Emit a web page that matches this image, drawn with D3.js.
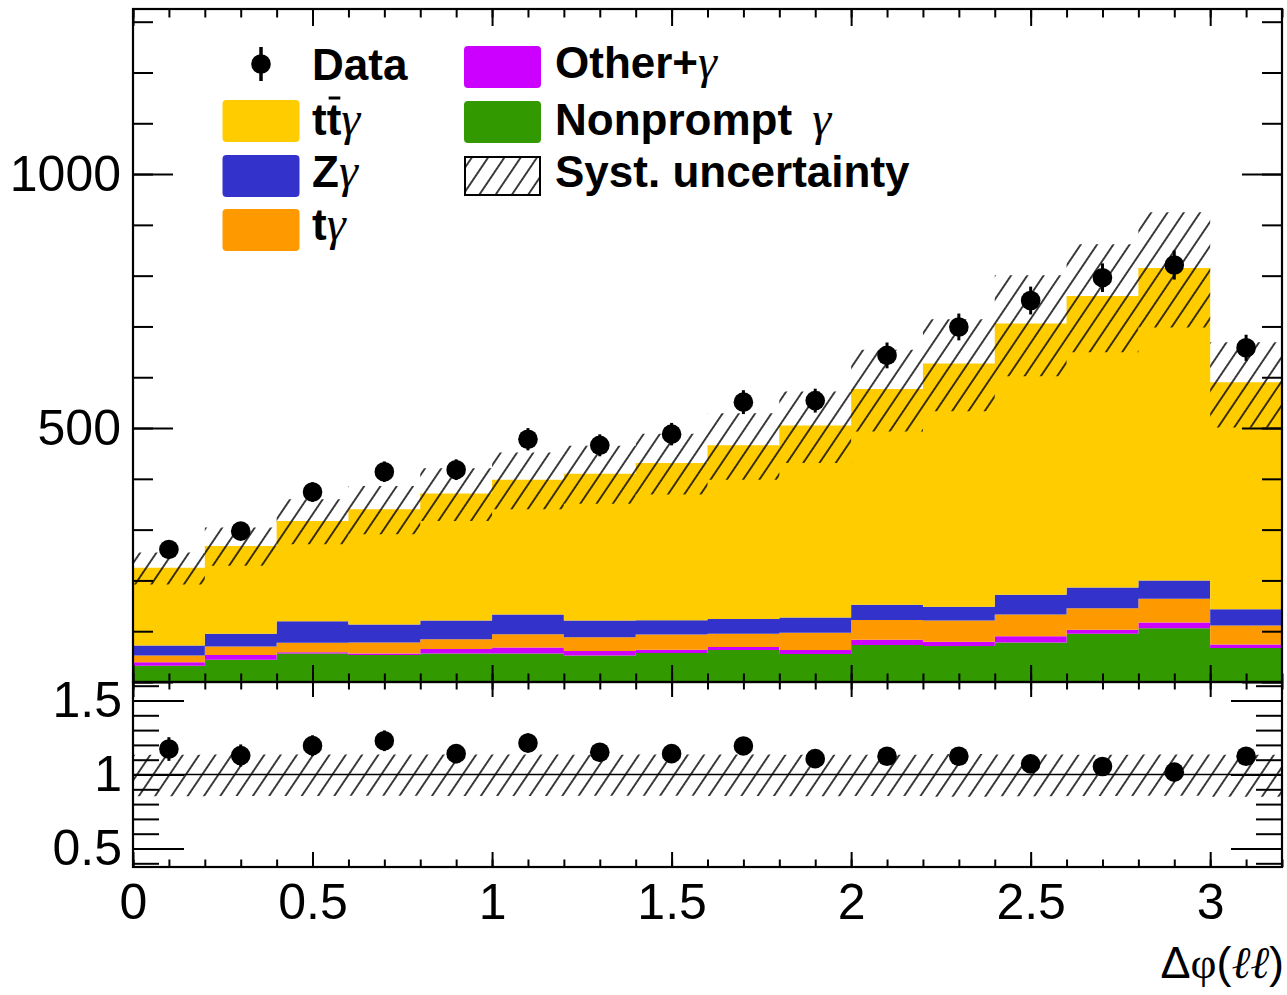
<!DOCTYPE html>
<html>
<head>
<meta charset="utf-8">
<script src="https://cdn.jsdelivr.net/npm/d3@7/dist/d3.min.js"></script>
<style>
  body { margin: 0; background: #fff; }
</style>
</head>
<body>
<div id="chart"></div>
<script>
// Bin edges of delta phi(ll)
const binEdges = [0, 0.2, 0.4, 0.6, 0.8, 1.0, 1.2, 1.4, 1.6, 1.8, 2.0, 2.2, 2.4, 2.6, 2.8, 3.0, 3.2];

// Stacked predictions per bin (bottom to top)
const nonprompt = [32, 44, 56, 53, 56, 56, 52, 57, 63, 55, 73, 71, 78, 95, 106, 67];
const otherG    = [7, 9, 2.5, 3, 9, 12, 9, 6.5, 6, 8, 10, 8, 12, 8, 11, 7];
const tG        = [13, 17, 19, 22, 19, 26, 27, 30, 26, 34, 39, 42, 43, 42, 47, 37];
const zG        = [20, 25, 42, 35, 37, 39, 33, 28, 29, 30, 30, 27, 39, 41, 36, 32];
const ttG       = [153, 173, 197.5, 227, 250, 265, 289, 309.5, 342, 378, 425, 479, 534, 574, 615, 447];

// Data and uncertainties
const dataCounts = [261, 297, 374, 414, 418, 478, 466, 488, 551, 554, 643, 699, 751, 796, 821, 658];
const dataErr    = [16.2, 17.2, 19.3, 20.3, 20.4, 21.9, 21.6, 22.1, 23.5, 23.5, 25.4, 26.4, 27.4, 28.2, 28.7, 25.7];
const systUp     = [30, 36, 43, 46, 50, 54, 55, 58, 63, 67, 77, 87, 95, 102, 110, 79];
const systDown   = [33, 39, 46, 49, 54, 58, 59, 62, 68, 74, 84, 94, 104, 111, 117, 89];

// Data / prediction
const ratioVals = [1.172, 1.128, 1.195, 1.228, 1.141, 1.213, 1.150, 1.141, 1.193, 1.107, 1.123, 1.123, 1.072, 1.054, 1.016, 1.123];
const ratioErr  = [0.08, 0.075, 0.07, 0.07, 0.065, 0.065, 0.062, 0.06, 0.06, 0.056, 0.053, 0.05, 0.047, 0.045, 0.042, 0.05];

// Tick labels
const xTicks = [0, 0.5, 1, 1.5, 2, 2.5, 3];
const xTickLabels = ['0', '0.5', '1', '1.5', '2', '2.5', '3'];
const yTicks = [0, 500, 1000];
const yTickLabels = ['', '500', '1000'];
const rTicks = [0.5, 1, 1.5];
const rTickLabels = ['0.5', '1', '1.5'];

const keys = ['nonprompt', 'other', 'tg', 'zg', 'ttg'];
const colors = { nonprompt: '#339900', other: '#cc00ff', tg: '#ff9900', zg: '#3333cc', ttg: '#ffcc00' };

const SANS = '"Liberation Sans", Arial, Helvetica, sans-serif';
const SERIF = '"Liberation Serif", "DejaVu Serif", serif';

// Frame geometry
const W = 1287, H = 995;
const left = 133, right = 1282;
const topY = 9, midY = 682, botY = 867;

const svg = d3.select('#chart').append('svg')
  .attr('width', W).attr('height', H)
  .style('font-family', SANS);

svg.append('rect').attr('width', W).attr('height', H).attr('fill', '#fff');

const x = d3.scaleLinear().domain([0, 3.2]).range([left, right]);
const y = d3.scaleLinear().domain([0, 1325]).range([midY, topY]);
const yr = d3.scaleLinear().domain([0.375, 1.625]).range([botY, midY]);

// Hatch pattern (ROOT style 3004-like)
const defs = svg.append('defs');
defs.append('pattern')
  .attr('id', 'hatch')
  .attr('patternUnits', 'userSpaceOnUse')
  .attr('width', 13.5).attr('height', 20)
  .attr('patternTransform', 'rotate(34)')
  .append('line')
  .attr('x1', 6.75).attr('x2', 6.75).attr('y1', -1).attr('y2', 21)
  .attr('stroke', '#000').attr('stroke-width', 1.5);

defs.append('clipPath').attr('id', 'clipTop')
  .append('rect').attr('x', left).attr('y', topY).attr('width', right - left).attr('height', midY - topY);
defs.append('clipPath').attr('id', 'clipBot')
  .append('rect').attr('x', left).attr('y', midY).attr('width', right - left).attr('height', botY - midY);

// Rows for the stack
const rows = binEdges.slice(0, -1).map((lo, i) => ({
  lo, hi: binEdges[i + 1],
  nonprompt: nonprompt[i], other: otherG[i], tg: tG[i], zg: zG[i], ttg: ttG[i]
}));
const series = d3.stack().keys(keys)(rows);

// Step area helper: two points per bin
function stepPoints(lo0, hi0) {
  const pts = [];
  rows.forEach((r, i) => {
    pts.push({ x: r.lo, y0: lo0(i), y1: hi0(i) });
    pts.push({ x: r.hi, y0: lo0(i), y1: hi0(i) });
  });
  return pts;
}

const upper = svg.append('g').attr('clip-path', 'url(#clipTop)');

series.forEach(s => {
  const area = d3.area().x(d => x(d.x)).y0(d => y(d.y0)).y1(d => y(d.y1));
  upper.append('path')
    .datum(stepPoints(i => s[i][0], i => s[i][1]))
    .attr('d', area)
    .attr('fill', colors[s.key]);
});

// Total prediction and systematic band
const total = rows.map((r, i) => series[series.length - 1][i][1]);
const bandArea = d3.area().x(d => x(d.x)).y0(d => y(d.y0)).y1(d => y(d.y1));
upper.append('path')
  .datum(stepPoints(i => total[i] - systDown[i], i => total[i] + systUp[i]))
  .attr('d', bandArea)
  .attr('fill', 'url(#hatch)');

// Data points
const centers = rows.map(r => (r.lo + r.hi) / 2);
upper.selectAll('.err')
  .data(dataCounts)
  .enter().append('line')
  .attr('x1', (d, i) => x(centers[i])).attr('x2', (d, i) => x(centers[i]))
  .attr('y1', (d, i) => y(d - dataErr[i])).attr('y2', (d, i) => y(d + dataErr[i]))
  .attr('stroke', '#000').attr('stroke-width', 3);
upper.selectAll('.pt')
  .data(dataCounts)
  .enter().append('circle')
  .attr('cx', (d, i) => x(centers[i]))
  .attr('cy', d => y(d))
  .attr('r', 9.8)
  .attr('fill', '#000');

// Ratio panel
const lower = svg.append('g').attr('clip-path', 'url(#clipBot)');
const rBand = d3.area().x(d => x(d.x)).y0(d => yr(d.y0)).y1(d => yr(d.y1));
lower.append('path')
  .datum(stepPoints(i => 1 - systDown[i] / total[i], i => 1 + systUp[i] / total[i]))
  .attr('d', rBand)
  .attr('fill', 'url(#hatch)');
lower.append('line')
  .attr('x1', left).attr('x2', right)
  .attr('y1', yr(1)).attr('y2', yr(1))
  .attr('stroke', '#000').attr('stroke-width', 1.6);
lower.selectAll('.rerr')
  .data(ratioVals)
  .enter().append('line')
  .attr('x1', (d, i) => x(centers[i])).attr('x2', (d, i) => x(centers[i]))
  .attr('y1', (d, i) => yr(d - ratioErr[i])).attr('y2', (d, i) => yr(d + ratioErr[i]))
  .attr('stroke', '#000').attr('stroke-width', 3);
lower.selectAll('.rpt')
  .data(ratioVals)
  .enter().append('circle')
  .attr('cx', (d, i) => x(centers[i]))
  .attr('cy', d => yr(d))
  .attr('r', 9.8)
  .attr('fill', '#000');

// Axes, ROOT style: ticks inside on all four sides
function styleAxis(g, size) {
  g.select('.domain').remove();
  g.attr('font-family', null).attr('font-size', null);
  g.selectAll('.tick line').attr('stroke', '#000').attr('stroke-width', 2);
  g.selectAll('.tick text').attr('fill', '#000').style('font-family', SANS).style('font-size', size + 'px');
}
function addAxis(axis, tx, ty, size) {
  svg.append('g').attr('transform', `translate(${tx},${ty})`).call(axis).call(g => styleAxis(g, size || 50));
}

const xMinor = d3.range(0, 3.21, 0.1).map(v => +v.toFixed(1));
const yMinor = d3.range(0, 1301, 100);
const rMinor = d3.range(0.4, 1.61, 0.1).map(v => +v.toFixed(1));

// Upper panel
addAxis(d3.axisLeft(y).tickValues(yMinor).tickSize(-20).tickFormat(''), left, 0);
addAxis(d3.axisLeft(y).tickValues(yTicks).tickSize(-40).tickPadding(12).tickFormat((d, i) => yTickLabels[i]), left, 0);
addAxis(d3.axisRight(y).tickValues(yMinor).tickSize(-20).tickFormat(''), right, 0);
addAxis(d3.axisRight(y).tickValues(yTicks).tickSize(-40).tickFormat(''), right, 0);
addAxis(d3.axisTop(x).tickValues(xMinor).tickSize(-8.5).tickFormat(''), 0, topY);
addAxis(d3.axisTop(x).tickValues(xTicks).tickSize(-17).tickFormat(''), 0, topY);
addAxis(d3.axisBottom(x).tickValues(xMinor).tickSize(-8.5).tickFormat(''), 0, midY);
addAxis(d3.axisBottom(x).tickValues(xTicks).tickSize(-17).tickFormat(''), 0, midY);

// Ratio panel
addAxis(d3.axisLeft(yr).tickValues(rMinor).tickSize(-26).tickFormat(''), left, 0);
addAxis(d3.axisLeft(yr).tickValues(rTicks).tickSize(-51).tickPadding(11).tickFormat((d, i) => rTickLabels[i]), left, 0);
addAxis(d3.axisRight(yr).tickValues(rMinor).tickSize(-26).tickFormat(''), right, 0);
addAxis(d3.axisRight(yr).tickValues(rTicks).tickSize(-51).tickFormat(''), right, 0);
addAxis(d3.axisTop(x).tickValues(xMinor).tickSize(-7.5).tickFormat(''), 0, midY);
addAxis(d3.axisTop(x).tickValues(xTicks).tickSize(-15).tickFormat(''), 0, midY);
addAxis(d3.axisBottom(x).tickValues(xMinor).tickSize(-7.5).tickFormat(''), 0, botY);
addAxis(d3.axisBottom(x).tickValues(xTicks).tickSize(-15).tickPadding(16).tickFormat((d, i) => xTickLabels[i]), 0, botY);

// Frames
svg.append('rect').attr('x', left).attr('y', topY).attr('width', right - left).attr('height', midY - topY)
  .attr('fill', 'none').attr('stroke', '#000').attr('stroke-width', 2.2);
svg.append('rect').attr('x', left).attr('y', midY).attr('width', right - left).attr('height', botY - midY)
  .attr('fill', 'none').attr('stroke', '#000').attr('stroke-width', 2.2);

// X axis title, right-aligned at the canvas edge
const title = svg.append('text')
  .attr('x', 1284).attr('y', 978)
  .attr('text-anchor', 'end')
  .style('font-size', '45px');
title.append('tspan').style('font-family', SANS).text('\u0394');
title.append('tspan').style('font-family', SERIF).text('\u03c6');
title.append('tspan').style('font-family', SANS).text('(');
title.append('tspan').style('font-family', SERIF).style('font-style', 'italic').text('\u2113\u2113');
title.append('tspan').style('font-family', SANS).text(')');

// Legend
const legend = svg.append('g');
const boxX = [222.5, 464], textX = [312, 555], boxW = 77, boxH = 42;

function legendText(col, base, label, gamma, gap) {
  const t = legend.append('text').attr('x', textX[col]).attr('y', base)
    .style('font-size', '44px').style('font-weight', 'bold').style('font-family', SANS);
  t.append('tspan').text(label);
  if (gamma) {
    t.append('tspan').attr('dx', gap || 0).style('font-family', SERIF)
      .style('font-weight', 'normal').style('font-style', 'italic')
      .style('font-size', '48px').text('\u03b3');
  }
  return t;
}
function legendBox(col, cy, color) {
  legend.append('rect').attr('x', boxX[col]).attr('y', cy - boxH / 2)
    .attr('width', boxW).attr('height', boxH).attr('rx', 4)
    .attr('fill', color);
}

// Data entry
legend.append('line').attr('x1', 261).attr('x2', 261).attr('y1', 47).attr('y2', 81)
  .attr('stroke', '#000').attr('stroke-width', 3.5);
legend.append('circle').attr('cx', 261).attr('cy', 64).attr('r', 9.8).attr('fill', '#000');
legendText(0, 80, 'Data', false);

legendBox(0, 121, colors.ttg);
const ttText = legendText(0, 135, 'tt', true);
const ext = ttText.node().getExtentOfChar(1);
legend.append('line').attr('x1', ext.x + 2).attr('x2', ext.x + ext.width - 1)
  .attr('y1', 98).attr('y2', 98).attr('stroke', '#000').attr('stroke-width', 3);

legendBox(0, 176, colors.zg);
legendText(0, 187, 'Z', true);
legendBox(0, 230, colors.tg);
legendText(0, 240, 't', true);

legendBox(1, 67, colors.other);
legendText(1, 78, 'Other+', true);
legendBox(1, 122, colors.nonprompt);
legendText(1, 135, 'Nonprompt ', true, 8);

legend.append('rect').attr('x', boxX[1] + 1).attr('y', 157).attr('width', boxW - 2).attr('height', 38)
  .attr('fill', '#fff').attr('stroke', '#000').attr('stroke-width', 2);
legend.append('rect').attr('x', boxX[1] + 1).attr('y', 157).attr('width', boxW - 2).attr('height', 38)
  .attr('fill', 'url(#hatch)').attr('stroke', '#000').attr('stroke-width', 2);
legendText(1, 187, 'Syst. uncertainty', false);
</script>
</body>
</html>
